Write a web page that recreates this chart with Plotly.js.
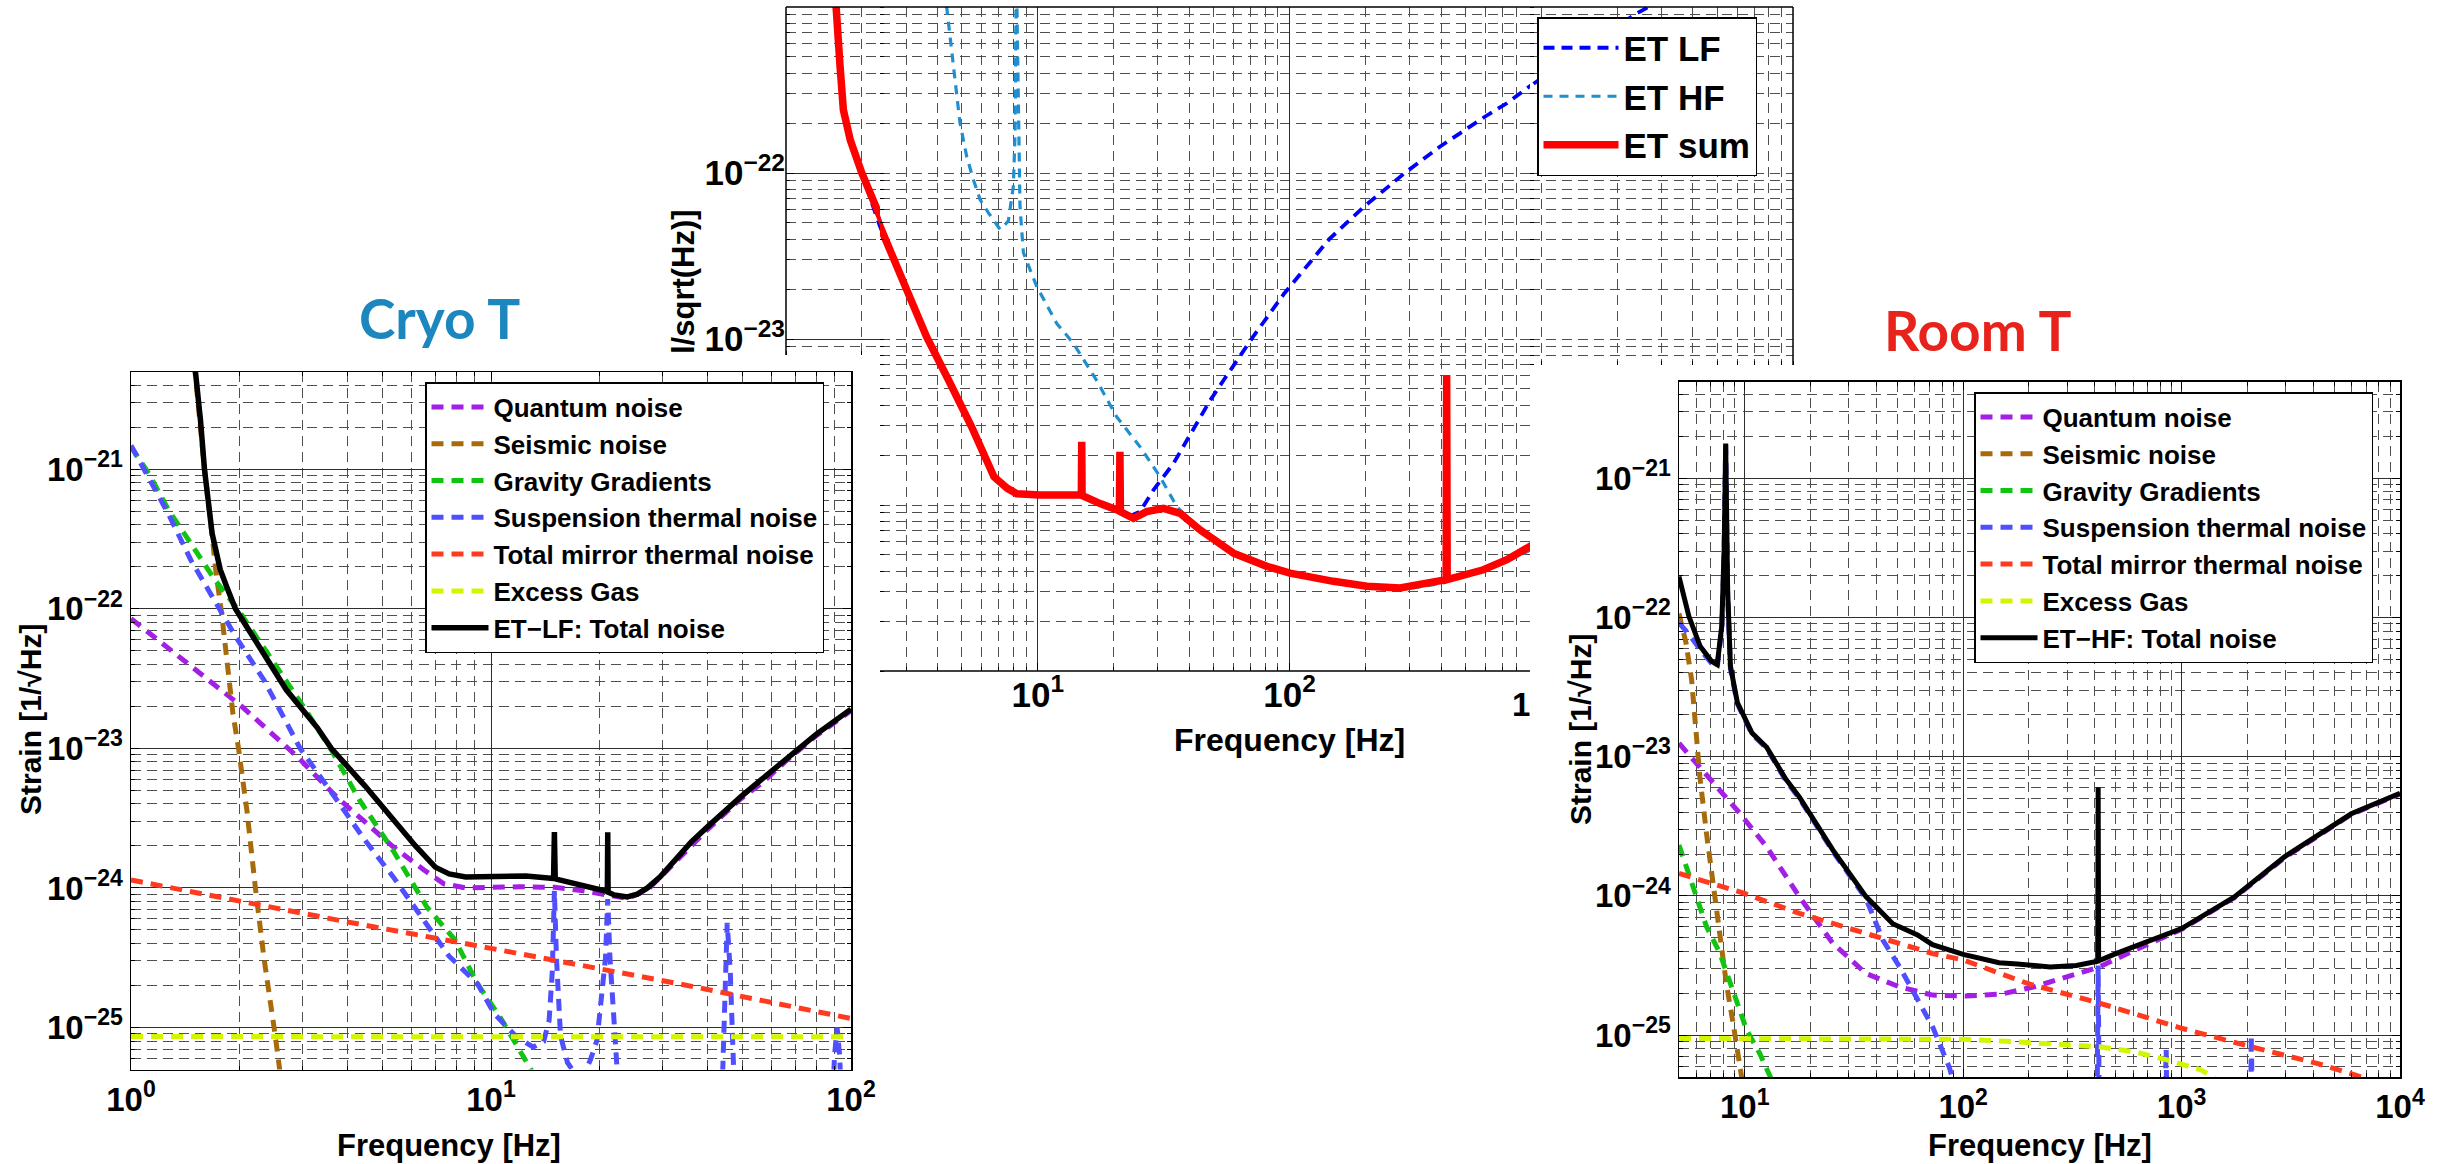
<!DOCTYPE html>
<html>
<head>
<meta charset="utf-8">
<script src="https://cdn.plot.ly/plotly-3.0.1.min.js"></script>
<style>
html, body { margin: 0; padding: 0; background: #ffffff; }
#chart { width: 2438px; height: 1164px; }
</style>
</head>
<body>
<div id="chart"></div>
<script>
// ---------------- DATA (frequency in Hz, strain in 1/sqrt(Hz)) ----------------

// Left panel: Cryo T, ET-LF noise budget
const lfQuantumF = [1.0, 1.5, 2.03, 2.9, 3.73, 4.5, 5.35, 6.5, 7.4, 8.5, 10, 12, 15, 18, 21, 23.9, 27.2, 32.2, 40, 49, 57, 66, 80, 100];
const lfQuantumH = [8.51e-23, 3.72e-23, 2.00e-23, 8.71e-24, 4.47e-24, 2.92e-24, 1.97e-24, 1.35e-24, 1.07e-24, 1.0e-24, 1.01e-24, 1.02e-24, 1.01e-24, 9.55e-25, 8.91e-25, 8.41e-25, 9.66e-25, 1.51e-24, 2.63e-24, 4.27e-24, 5.75e-24, 8.13e-24, 1.23e-23, 1.86e-23];

const lfSeismicF = [1.5, 1.60, 1.68, 1.72, 1.786, 1.851, 1.919, 1.989, 2.10, 2.216, 2.34, 2.51, 2.58, 2.65];
const lfSeismicH = [5.62e-21, 1.0e-21, 3.39e-22, 1.88e-22, 9.20e-23, 4.07e-23, 1.78e-23, 1.0e-23, 3.55e-24, 1.0e-24, 3.16e-25, 9.12e-26, 5.01e-26, 3.16e-26];

const lfGravityF = [1.0, 1.12, 1.27, 1.49, 1.72, 1.99, 2.34, 3.01, 3.60, 4.31, 5.34, 6.63, 7.93, 9.16, 10.57, 11.56, 13.0, 13.6];
const lfGravityH = [1.45e-21, 9.33e-22, 5.13e-22, 2.75e-22, 1.58e-22, 9.77e-23, 5.31e-23, 2.0e-23, 9.77e-24, 4.27e-24, 1.86e-24, 7.33e-25, 4.27e-25, 2.07e-25, 1.20e-25, 8.13e-26, 5.01e-26, 3.98e-26];

const lfSuspensionF = [1.0, 1.27, 1.466, 1.69, 1.954, 2.34, 2.70, 2.95, 3.73, 4.47, 5.35, 6.40, 7.65, 9.16, 10.2, 11.8, 13.1, 14.0, 14.5, 14.8, 15.0, 15.2, 15.4, 15.6, 16.3, 17.0, 18.0, 18.9, 19.7, 20.1, 20.8, 21.1, 21.4, 21.9, 22.4, 23.5, 30, 43.8, 44.3, 44.7, 45.3, 46.2, 47.0, 47.5, 60, 89, 90, 91.5, 93, 94, 100];
const lfSuspensionH = [1.48e-21, 4.79e-22, 2.24e-22, 1.20e-22, 6.31e-23, 3.09e-23, 1.58e-23, 1.0e-23, 4.27e-24, 2.19e-24, 1.20e-24, 6.17e-25, 3.24e-25, 2.07e-25, 1.26e-25, 8.51e-26, 7.24e-26, 7.94e-26, 1.12e-25, 2.51e-25, 9.55e-25, 3.16e-25, 1.26e-25, 8.71e-26, 5.62e-26, 4.79e-26, 4.47e-26, 5.89e-26, 8.13e-26, 1.26e-25, 3.16e-25, 8.32e-25, 3.16e-25, 1.26e-25, 5.01e-26, 3.16e-26, 1.58e-26, 3.16e-26, 1.0e-25, 2.51e-25, 5.62e-25, 2.51e-25, 1.0e-25, 3.16e-26, 1.58e-26, 3.16e-26, 6.31e-26, 1.0e-25, 6.31e-26, 3.16e-26, 2.0e-26];

const lfMirrorF = [1, 3.98, 10, 32.9, 100];
const lfMirrorH = [1.14e-24, 5.71e-25, 3.69e-25, 2.07e-25, 1.16e-25];

const lfGasF = [1, 10, 100];
const lfGasH = [8.61e-26, 8.63e-26, 8.57e-26];

const lfTotalF = [1.50, 1.51, 1.56, 1.60, 1.68, 1.77, 1.85, 1.95, 2.22, 2.70, 3.29, 3.6, 4.47, 5.35, 6.17, 7.0, 7.65, 8.5, 10, 12.5, 14.92, 15.0, 15.08, 17, 19, 20.6, 21.05, 21.1, 21.15, 22, 23.9, 25.5, 27.2, 29.5, 32.2, 36, 40, 45, 49.3, 56, 66, 80, 100];
const lfTotalH = [5.62e-21, 5.01e-21, 2.24e-21, 1.0e-21, 3.47e-22, 1.91e-22, 1.41e-22, 1.0e-22, 5.89e-23, 2.63e-23, 1.41e-23, 1.0e-23, 5.37e-24, 3.09e-24, 2.0e-24, 1.41e-24, 1.26e-24, 1.20e-24, 1.20e-24, 1.22e-24, 1.17e-24, 2.51e-24, 1.16e-24, 1.08e-24, 1.01e-24, 9.55e-25, 9.44e-25, 2.51e-24, 9.33e-25, 8.91e-25, 8.61e-25, 9.02e-25, 1.0e-24, 1.20e-24, 1.55e-24, 2.14e-24, 2.75e-24, 3.63e-24, 4.47e-24, 5.89e-24, 8.32e-24, 1.26e-23, 1.91e-23];

// Middle panel: ET LF, ET HF and their sum
const etLfF = [1.55, 1.59, 1.64, 1.69, 1.80, 2.0, 2.36, 3.02, 3.62, 4.42, 5.46, 6.70, 7.57, 8.25, 10.2, 14.7, 14.9, 14.95, 15.0, 17.7, 20.6, 21.1, 21.2, 21.3, 23.0, 25.5, 28.8, 34.6, 41.5, 48.4, 54.8, 71.6, 95.3, 143.5, 198.8, 287, 398, 599, 730, 877, 2323, 2667, 3000];
const etLfH = [1.58e-21, 1.0e-21, 4.37e-22, 2.40e-22, 1.58e-22, 1.0e-22, 4.79e-23, 1.97e-23, 1.03e-23, 5.66e-24, 2.96e-24, 1.48e-24, 1.24e-24, 1.16e-24, 1.14e-24, 1.14e-24, 1.14e-24, 2.40e-24, 1.12e-24, 1.0e-24, 9.12e-25, 9.12e-25, 2.0e-24, 9.02e-25, 8.51e-25, 9.12e-25, 1.23e-24, 1.78e-24, 2.82e-24, 4.27e-24, 5.66e-24, 1.03e-23, 1.88e-23, 3.98e-23, 6.31e-23, 1.0e-22, 1.45e-22, 2.19e-22, 2.63e-22, 3.24e-22, 8.91e-22, 1.0e-21, 1.12e-21];

const etHfF = [4.2, 4.35, 4.62, 4.91, 5.22, 5.55, 5.90, 6.37, 7.09, 7.64, 8.0, 8.13, 8.22, 8.5, 8.77, 9.91, 11.9, 13.85, 17.1, 20.6, 25.5, 30.6, 35.7, 44.1, 59.9, 100, 203, 275, 373, 419, 421, 423, 730, 1000, 1746, 2960, 5983, 10000];
const etHfH = [1.58e-21, 1.0e-21, 4.37e-22, 2.0e-22, 1.26e-22, 9.12e-23, 6.92e-23, 5.75e-23, 4.57e-23, 5.13e-23, 8.32e-23, 1.74e-22, 1.78e-21, 6.31e-23, 3.31e-23, 2.07e-23, 1.24e-23, 9.42e-24, 5.66e-24, 3.39e-24, 2.24e-24, 1.48e-24, 9.77e-25, 6.92e-25, 5.01e-25, 3.80e-25, 3.16e-25, 3.09e-25, 3.31e-25, 3.47e-25, 6.03e-24, 3.47e-25, 4.57e-25, 5.75e-25, 9.77e-25, 1.91e-24, 3.89e-24, 5.43e-24];

const etSumF = [1.55, 1.59, 1.64, 1.69, 1.80, 2.0, 2.36, 3.02, 3.62, 4.42, 5.46, 6.70, 7.57, 8.25, 10.2, 14.7, 14.9, 14.95, 15.0, 17.7, 20.6, 21.1, 21.2, 21.3, 24.0, 27.1, 31.6, 36.8, 44.1, 59.9, 81.3, 100.5, 149.5, 203, 275, 373, 419, 421, 423, 589, 730, 900, 1746, 2960, 5983, 10000];
const etSumH = [1.58e-21, 1.0e-21, 4.37e-22, 2.40e-22, 1.58e-22, 1.0e-22, 4.79e-23, 1.97e-23, 1.03e-23, 5.66e-24, 2.96e-24, 1.48e-24, 1.26e-24, 1.17e-24, 1.15e-24, 1.15e-24, 1.15e-24, 2.40e-24, 1.14e-24, 1.02e-24, 9.33e-25, 9.23e-25, 2.09e-24, 9.12e-25, 8.32e-25, 9.12e-25, 9.55e-25, 8.91e-25, 7.08e-25, 5.13e-25, 4.27e-25, 3.89e-25, 3.47e-25, 3.24e-25, 3.16e-25, 3.39e-25, 3.55e-25, 6.07e-24, 3.55e-25, 4.07e-25, 4.68e-25, 5.62e-25, 1.0e-24, 1.91e-24, 3.89e-24, 5.50e-24];

// Right panel: Room T, ET-HF noise budget
const hfQuantumF = [5.0, 6.92, 9.49, 12.6, 17.8, 25.3, 35.9, 51.1, 72.4, 102.8, 149, 211, 300, 420, 608, 1000, 1746, 2960, 5983, 10000];
const hfQuantumH = [1.25e-23, 6.98e-24, 3.92e-24, 2.25e-24, 9.86e-25, 4.57e-25, 2.77e-25, 2.22e-25, 1.94e-25, 1.91e-25, 1.97e-25, 2.22e-25, 2.63e-25, 3.09e-25, 4.07e-25, 5.75e-25, 9.73e-25, 1.88e-24, 3.85e-24, 5.40e-24];

const hfSeismicF = [5.0, 5.38, 5.71, 5.81, 6.23, 6.68, 7.17, 7.69, 8.24, 8.85, 9.48, 9.9];
const hfSeismicH = [1.07e-22, 6.61e-23, 3.59e-23, 2.57e-23, 7.18e-24, 2.82e-24, 1.16e-24, 5.37e-25, 2.34e-25, 1.21e-25, 5.89e-26, 3.98e-26];

const hfGravityF = [5.0, 5.81, 6.68, 7.69, 8.85, 10.2, 11.7, 13.2, 14];
const hfGravityH = [2.32e-24, 1.16e-24, 6.03e-25, 3.89e-25, 2.10e-25, 1.09e-25, 7.41e-26, 5.01e-26, 3.98e-26];

const hfSuspensionF = [5.0, 5.55, 6.25, 7.05, 7.48, 7.85, 8.05, 8.18, 8.35, 8.6, 9.25, 10.8, 12.6, 15.4, 17.8, 25.3, 35.9, 42.9, 51.1, 60.8, 72.4, 86.3, 95, 150, 400, 410, 415, 420, 430, 830, 845, 850, 855, 870, 2040, 2075, 2084, 2095, 2130, 10000];
const hfSuspensionH = [9.12e-23, 7.59e-23, 5.89e-23, 4.68e-23, 4.37e-23, 8.32e-23, 3.02e-22, 1.74e-21, 1.51e-22, 4.27e-23, 2.40e-23, 1.45e-23, 1.15e-23, 6.76e-24, 5.01e-24, 2.09e-24, 9.55e-25, 4.82e-25, 3.10e-25, 1.88e-25, 1.15e-25, 5.89e-26, 3.55e-26, 1.58e-26, 1.26e-26, 2.51e-26, 3.16e-25, 2.51e-26, 1.26e-26, 1.26e-26, 3.16e-26, 7.94e-26, 3.16e-26, 1.26e-26, 1.26e-26, 3.16e-26, 1.0e-25, 3.16e-26, 1.26e-26, 1.0e-26];

const hfMirrorF = [5.0, 9.82, 17.8, 35.9, 72.4, 100, 197, 420, 1000, 2084, 4210, 6650, 8000];
const hfMirrorH = [1.45e-24, 1.05e-24, 7.48e-25, 5.37e-25, 3.86e-25, 3.47e-25, 2.35e-25, 1.70e-25, 1.12e-25, 8.24e-26, 6.25e-26, 5.01e-26, 4.47e-26];

const hfGasF = [5.0, 100, 177, 300, 420, 608, 865, 1228, 1390, 1500];
const hfGasH = [9.46e-26, 9.33e-26, 8.95e-26, 8.51e-26, 8.24e-26, 7.59e-26, 6.61e-26, 5.62e-26, 5.01e-26, 4.47e-26];

const hfTotalF = [5.0, 5.55, 6.25, 7.05, 7.48, 7.85, 8.05, 8.18, 8.35, 8.6, 9.25, 10.8, 12.6, 15.4, 17.8, 25.3, 35.9, 47.6, 61.8, 72.4, 100, 146, 177, 250, 330, 413, 415, 417, 500, 724, 1000, 1746, 2960, 5983, 10000];
const hfTotalH = [1.97e-22, 1.02e-22, 6.21e-23, 4.85e-23, 4.59e-23, 8.71e-23, 3.16e-22, 1.78e-21, 1.58e-22, 4.47e-23, 2.45e-23, 1.48e-23, 1.17e-23, 6.92e-24, 5.13e-24, 2.14e-24, 9.89e-25, 6.31e-25, 5.25e-25, 4.47e-25, 3.80e-25, 3.31e-25, 3.24e-25, 3.09e-25, 3.16e-25, 3.39e-25, 6.03e-24, 3.42e-25, 3.85e-25, 4.82e-25, 5.83e-25, 9.84e-25, 1.91e-24, 3.89e-24, 5.46e-24];

// Legend names
const sideNames = ['Quantum noise', 'Seismic noise', 'Gravity Gradients', 'Suspension thermal noise', 'Total mirror thermal noise', 'Excess Gas'];
const lfTotalName = 'ET\u2212LF: Total noise';
const hfTotalName = 'ET\u2212HF: Total noise';
const midNames = ['ET LF', 'ET HF', 'ET sum'];

// Tick labels
const lfXTicks = [1, 10, 100];
const lfXTickText = ['<b>10<sup>0</sup></b>', '<b>10<sup>1</sup></b>', '<b>10<sup>2</sup></b>'];
const hfXTicks = [10, 100, 1000, 10000];
const hfXTickText = ['<b>10<sup>1</sup></b>', '<b>10<sup>2</sup></b>', '<b>10<sup>3</sup></b>', '<b>10<sup>4</sup></b>'];
const midXTicks = [10, 100];
const midXTickText = ['<b>10<sup>1</sup></b>', '<b>10<sup>2</sup></b>'];
const sideYTicks = [1e-25, 1e-24, 1e-23, 1e-22, 1e-21];
const sideYTickText = ['<b>10<sup>\u221225</sup></b>', '<b>10<sup>\u221224</sup></b>', '<b>10<sup>\u221223</sup></b>', '<b>10<sup>\u221222</sup></b>', '<b>10<sup>\u221221</sup></b>'];
const midYTicks = [1e-23, 1e-22];
const midYTickText = ['<b>10<sup>\u221223</sup></b>', '<b>10<sup>\u221222</sup></b>'];

// ---------------- STYLE / LAYOUT ----------------
const W = 2438, H = 1164;
const px = v => v / W;
const py = v => 1 - v / H;
const FONT = 'Liberation Sans, Arial, Helvetica, sans-serif';

const colors = {
  quantum: '#a31fe6', seismic: '#a86b0c', gravity: '#12c412', suspension: '#4f4fff',
  mirror: '#ff3a1f', gas: '#d4f500', total: '#000000',
  lf: '#0000ff', hf: '#1f8fd0', sum: '#ff0000'
};

function dashed(f, h, name, color, xa, ya, legend, show) {
  return { type: 'scatter', mode: 'lines', x: f, y: h, name: name, xaxis: xa, yaxis: ya,
    legend: legend, showlegend: show, hoverinfo: 'skip',
    line: { color: color, width: 5, dash: '12px,8px' } };
}
function solid(f, h, name, color, width, xa, ya, legend, show) {
  return { type: 'scatter', mode: 'lines', x: f, y: h, name: name, xaxis: xa, yaxis: ya,
    legend: legend, showlegend: show, hoverinfo: 'skip',
    line: { color: color, width: width } };
}

const traces = [];
// Left panel
traces.push(dashed(lfQuantumF, lfQuantumH, sideNames[0], colors.quantum, 'x', 'y', 'legend', true));
traces.push(dashed(lfSeismicF, lfSeismicH, sideNames[1], colors.seismic, 'x', 'y', 'legend', true));
traces.push(dashed(lfGravityF, lfGravityH, sideNames[2], colors.gravity, 'x', 'y', 'legend', true));
traces.push(dashed(lfSuspensionF, lfSuspensionH, sideNames[3], colors.suspension, 'x', 'y', 'legend', true));
traces.push(dashed(lfMirrorF, lfMirrorH, sideNames[4], colors.mirror, 'x', 'y', 'legend', true));
traces.push(dashed(lfGasF, lfGasH, sideNames[5], colors.gas, 'x', 'y', 'legend', true));
traces.push(solid(lfTotalF, lfTotalH, lfTotalName, colors.total, 5.5, 'x', 'y', 'legend', true));

// Middle panel, drawn in three windows (main + two strips above the overlapping panels)
[['x2', 'y2', true], ['x3', 'y3', false], ['x4', 'y4', false]].forEach(([xa, ya, show]) => {
  traces.push({ type: 'scatter', mode: 'lines', x: etLfF, y: etLfH, name: midNames[0], xaxis: xa, yaxis: ya,
    legend: 'legend2', showlegend: show, hoverinfo: 'skip', line: { color: colors.lf, width: 3.8, dash: '11px,7px' } });
  traces.push({ type: 'scatter', mode: 'lines', x: etHfF, y: etHfH, name: midNames[1], xaxis: xa, yaxis: ya,
    legend: 'legend2', showlegend: show, hoverinfo: 'skip', line: { color: colors.hf, width: 3.2, dash: '9px,7px' } });
  traces.push(solid(etSumF, etSumH, midNames[2], colors.sum, 7.5, xa, ya, 'legend2', show));
});

// Right panel
traces.push(dashed(hfQuantumF, hfQuantumH, sideNames[0], colors.quantum, 'x5', 'y5', 'legend3', true));
traces.push(dashed(hfSeismicF, hfSeismicH, sideNames[1], colors.seismic, 'x5', 'y5', 'legend3', true));
traces.push(dashed(hfGravityF, hfGravityH, sideNames[2], colors.gravity, 'x5', 'y5', 'legend3', true));
traces.push(dashed(hfSuspensionF, hfSuspensionH, sideNames[3], colors.suspension, 'x5', 'y5', 'legend3', true));
traces.push(dashed(hfMirrorF, hfMirrorH, sideNames[4], colors.mirror, 'x5', 'y5', 'legend3', true));
traces.push(dashed(hfGasF, hfGasH, sideNames[5], colors.gas, 'x5', 'y5', 'legend3', true));
traces.push(solid(hfTotalF, hfTotalH, hfTotalName, colors.total, 5, 'x5', 'y5', 'legend3', true));

const minorGrid = { dtick: 'D1', showgrid: true, gridcolor: '#4f4f4f', gridwidth: 1, griddash: '10px,6px',
  ticks: 'inside', ticklen: 4, tickcolor: '#000' };

function axis(o) {
  return Object.assign({
    type: 'log', showgrid: true, gridcolor: '#2e2e2e', gridwidth: 1, zeroline: false,
    minor: minorGrid, tickmode: 'array', ticks: 'inside', ticklen: 8, tickcolor: '#000',
    tickfont: { family: FONT, size: 33, color: '#000' },
    automargin: false, fixedrange: true
  }, o);
}
function framed(o) {
  return axis(Object.assign({ showline: true, mirror: 'allticks', linecolor: '#000', linewidth: 1.5 }, o));
}

// Middle-panel geometry (pixels): frame 786..1793 x 7..671, partly hidden by the side panels
const mX0 = 786, mX1 = 1793, mY0 = 7, mY1 = 671;
const mDec = (mX1 - mX0) / 4;
const mDecY = (mY1 - mY0) / 4;
const cutL = 880, cutR = 1530, cutLY = 355, cutRY = 365;

const legendBase = { bgcolor: '#ffffff', bordercolor: '#000000', borderwidth: 1.5,
  xanchor: 'left', yanchor: 'top', tracegroupgap: 0 };
const midTickFont = { family: FONT, size: 35, color: '#000' };

const layout = {
  width: W, height: H, margin: { l: 0, r: 0, t: 0, b: 0 },
  paper_bgcolor: '#ffffff', plot_bgcolor: '#ffffff', showlegend: true,
  font: { family: FONT, color: '#000' },

  xaxis: framed({ domain: [px(131), px(851)], range: [0, 2], anchor: 'y', tickvals: lfXTicks, ticktext: lfXTickText }),
  yaxis: framed({ domain: [py(1069.5), py(372)], range: [-25.301, -20.303], anchor: 'x', tickvals: sideYTicks, ticktext: sideYTickText }),

  xaxis2: axis({ domain: [px(cutL), px(cutR)], range: [(cutL - mX0) / mDec, (cutR - mX0) / mDec], anchor: 'y2',
    tickvals: midXTicks, ticktext: midXTickText, tickfont: midTickFont }),
  yaxis2: axis({ domain: [py(mY1), py(mY0)], range: [-25, -21], anchor: 'x2', tickvals: [], showticklabels: false, ticks: '' }),

  xaxis3: axis({ domain: [px(mX0), px(cutL)], range: [0, (cutL - mX0) / mDec], anchor: 'y3', tickvals: [], showticklabels: false, ticks: '' }),
  yaxis3: axis({ domain: [py(cutLY), py(mY0)], range: [-21 - (cutLY - mY0) / mDecY, -21], anchor: 'x3',
    tickvals: midYTicks, ticktext: midYTickText, tickfont: midTickFont }),

  xaxis4: axis({ domain: [px(cutR), px(mX1)], range: [(cutR - mX0) / mDec, 4], anchor: 'y4', tickvals: [], showticklabels: false, ticks: '' }),
  yaxis4: axis({ domain: [py(cutRY), py(mY0)], range: [-21 - (cutRY - mY0) / mDecY, -21], anchor: 'x4', tickvals: [], showticklabels: false, ticks: '' }),

  xaxis5: framed({ domain: [px(1679), px(2400)], range: [0.699, 4], anchor: 'y5', tickvals: hfXTicks, ticktext: hfXTickText }),
  yaxis5: framed({ domain: [py(1077.3), py(381.7)], range: [-25.303, -20.306], anchor: 'x5', tickvals: sideYTicks, ticktext: sideYTickText }),

  legend: Object.assign({}, legendBase, { x: px(425), y: py(382), itemwidth: 57,
    font: { family: FONT, size: 26, color: '#000', weight: 'bold' } }),
  legend2: Object.assign({}, legendBase, { x: px(1537), y: py(17), itemwidth: 75,
    font: { family: FONT, size: 35, color: '#000', weight: 'bold' } }),
  legend3: Object.assign({}, legendBase, { x: px(1974), y: py(392), itemwidth: 57,
    font: { family: FONT, size: 26, color: '#000', weight: 'bold' } }),

  shapes: [
    { type: 'line', xref: 'paper', yref: 'paper', x0: px(mX0), x1: px(mX1), y0: py(mY0), y1: py(mY0), line: { color: '#000', width: 1.5 } },
    { type: 'line', xref: 'paper', yref: 'paper', x0: px(mX0), x1: px(mX0), y0: py(mY0), y1: py(cutLY), line: { color: '#000', width: 1.5 } },
    { type: 'line', xref: 'paper', yref: 'paper', x0: px(mX1), x1: px(mX1), y0: py(mY0), y1: py(cutRY), line: { color: '#000', width: 1.5 } },
    { type: 'line', xref: 'paper', yref: 'paper', x0: px(cutL), x1: px(cutR), y0: py(mY1), y1: py(mY1), line: { color: '#000', width: 1.5 } }
  ],

  annotations: [
    { text: 'Cryo T', x: px(439), y: py(318), xref: 'paper', yref: 'paper', showarrow: false, xanchor: 'center', yanchor: 'middle',
      font: { family: 'Lato, Open Sans, sans-serif', size: 55, color: '#1c86bf', weight: 'bold' } },
    { text: 'Room T', x: px(1977), y: py(330), xref: 'paper', yref: 'paper', showarrow: false, xanchor: 'center', yanchor: 'middle',
      font: { family: 'Lato, Open Sans, sans-serif', size: 55, color: '#e8231c', weight: 'bold' } },
    { text: 'Frequency [Hz]', x: px(449), y: py(1145), xref: 'paper', yref: 'paper', showarrow: false, xanchor: 'center', yanchor: 'middle',
      font: { family: FONT, size: 31, color: '#000', weight: 'bold' } },
    { text: 'Frequency [Hz]', x: px(2040), y: py(1145), xref: 'paper', yref: 'paper', showarrow: false, xanchor: 'center', yanchor: 'middle',
      font: { family: FONT, size: 31, color: '#000', weight: 'bold' } },
    { text: 'Frequency [Hz]', x: px(1289), y: py(740), xref: 'paper', yref: 'paper', showarrow: false, xanchor: 'center', yanchor: 'middle',
      font: { family: FONT, size: 32, color: '#000', weight: 'bold' } },
    { text: 'Strain [1/\u221AHz]', x: px(30), y: py(720), xref: 'paper', yref: 'paper', showarrow: false, textangle: -90, xanchor: 'center', yanchor: 'middle',
      font: { family: FONT, size: 30, color: '#000', weight: 'bold' } },
    { text: 'Strain [1/\u221AHz]', x: px(1580), y: py(730), xref: 'paper', yref: 'paper', showarrow: false, textangle: -90, xanchor: 'center', yanchor: 'middle',
      font: { family: FONT, size: 30, color: '#000', weight: 'bold' } },
    { text: 'l/sqrt(Hz)]', x: px(683), y: py(282), xref: 'paper', yref: 'paper', showarrow: false, textangle: -90, xanchor: 'center', yanchor: 'middle',
      font: { family: FONT, size: 31, color: '#000', weight: 'bold' } },
    { text: '1', x: px(1532), y: py(704), xref: 'paper', yref: 'paper', showarrow: false, xanchor: 'right', yanchor: 'middle',
      font: { family: FONT, size: 33, color: '#000', weight: 'bold' } }
  ]
};

Plotly.newPlot('chart', traces, layout, { staticPlot: true, displayModeBar: false });
</script>
</body>
</html>
